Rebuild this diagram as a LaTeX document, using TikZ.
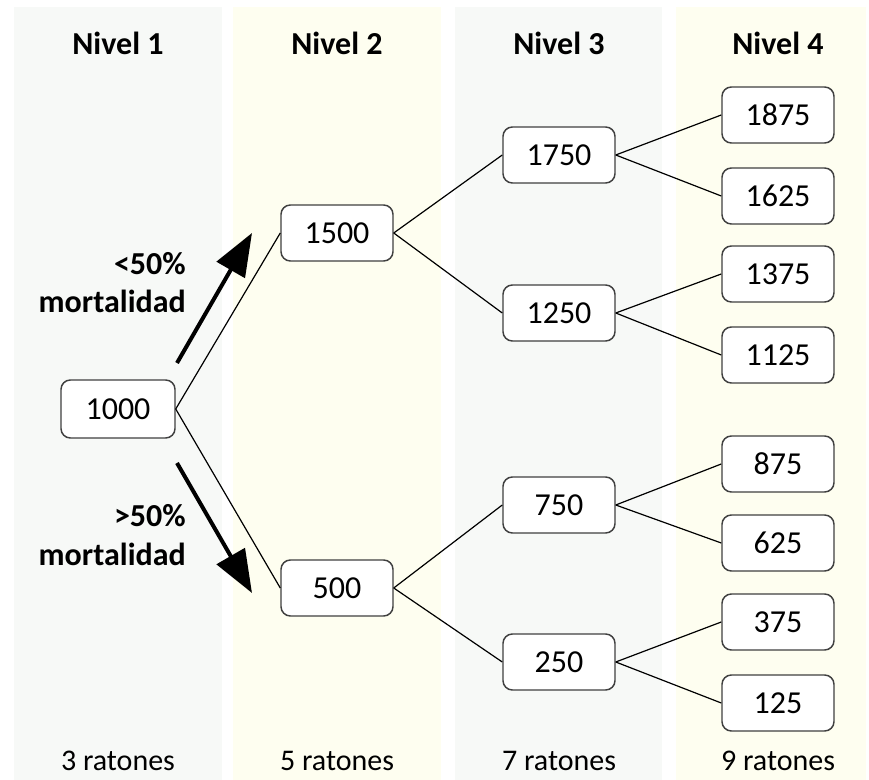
\documentclass[tikz,border=0pt]{standalone}
\usepackage{fontspec}
\setmainfont{Carlito}
\usetikzlibrary{arrows.meta}

\definecolor{panelgrey}{RGB}{247,249,247}
\definecolor{panelyellow}{RGB}{254,254,240}
\definecolor{boxline}{RGB}{64,64,64}

\tikzset{
	dosebox/.style={draw=boxline, line width=1.1pt, fill=white, rounded corners=7pt,
		minimum width=84pt, minimum height=42pt, inner sep=0pt,
		font=\fontsize{24}{28}\selectfont},
	branch/.style={line width=0.9pt},
	headtext/.style={anchor=base, inner sep=0.75pt, font=\fontsize{24}{28}\selectfont\bfseries},
	counttext/.style={anchor=base, inner sep=0.75pt, font=\fontsize{22.5}{26}\selectfont},
	ruletext/.style={anchor=base east, inner sep=0.75pt, font=\fontsize{24}{28}\selectfont\bfseries},
	bigarrow/.style={line width=3pt, -{Triangle[length=32pt, width=24pt]}}
}

\begin{document}
\begin{tikzpicture}[x=0.75pt,y=0.75pt,yscale=-1,xscale=1]
	\useasboundingbox (0,0) rectangle (869,780);

	%Shape: Rectangle [panels]
	\fill [panelgrey] (14,7) rectangle (222,780);
	\fill [panelyellow] (233,7) rectangle (441,780);
	\fill [panelgrey] (455,7) rectangle (662,780);
	\fill [panelyellow] (676,7) rectangle (866,780);

	% Text Node
	\node [headtext] (h1) at (118,55) {Nivel 1};
	\node [headtext] (h2) at (337,55) {Nivel 2};
	\node [headtext] (h3) at (559,55) {Nivel 3};
	\node [headtext] (h4) at (778,55) {Nivel 4};

	% Text Node
	\node [counttext] (c1) at (118,771) {3 ratones};
	\node [counttext] (c2) at (337,771) {5 ratones};
	\node [counttext] (c3) at (559,771) {7 ratones};
	\node [counttext] (c4) at (778,771) {9 ratones};

	%Shape: Rounded Rect [level 1]
	\node [dosebox, minimum width=85.5pt, minimum height=43.5pt] (n1000) at (118,409) {1000};
	%Shape: Rounded Rect [level 2]
	\node [dosebox] (n1500) at (337,233) {1500};
	\node [dosebox] (n500) at (337,588) {500};
	%Shape: Rounded Rect [level 3]
	\node [dosebox] (n1750) at (559,155) {1750};
	\node [dosebox] (n1250) at (559,313) {1250};
	\node [dosebox] (n750) at (559,505) {750};
	\node [dosebox] (n250) at (559,662) {250};
	%Shape: Rounded Rect [level 4]
	\node [dosebox] (n1875) at (778,115) {1875};
	\node [dosebox] (n1625) at (778,196) {1625};
	\node [dosebox] (n1375) at (778,274) {1375};
	\node [dosebox] (n1125) at (778,355) {1125};
	\node [dosebox] (n875) at (778,464) {875};
	\node [dosebox] (n625) at (778,543) {625};
	\node [dosebox] (n375) at (778,622) {375};
	\node [dosebox] (n125) at (778,703) {125};

	%Straight Lines
	\draw [branch] (n1000.east) -- (n1500.west);
	\draw [branch] (n1000.east) -- (n500.west);
	\draw [branch] (n1500.east) -- (n1750.west);
	\draw [branch] (n1500.east) -- (n1250.west);
	\draw [branch] (n500.east) -- (n750.west);
	\draw [branch] (n500.east) -- (n250.west);
	\draw [branch] (n1750.east) -- (n1875.west);
	\draw [branch] (n1750.east) -- (n1625.west);
	\draw [branch] (n1250.east) -- (n1375.west);
	\draw [branch] (n1250.east) -- (n1125.west);
	\draw [branch] (n750.east) -- (n875.west);
	\draw [branch] (n750.east) -- (n625.west);
	\draw [branch] (n250.east) -- (n375.west);
	\draw [branch] (n250.east) -- (n125.west);

	%Straight Lines [arrows]
	\coordinate (uptail) at (177,363);
	\coordinate (uptip) at (252,233);
	\coordinate (downtail) at (177,463);
	\coordinate (downtip) at (252,593);
	\draw [bigarrow] (uptail) -- (uptip);
	\draw [bigarrow] (downtail) -- (downtip);

	% Text Node
	\node [ruletext] (uppct) at (187,275) {<50\%};
	\node [ruletext] (upmort) at (187,313) {mortalidad};
	\node [ruletext] (downpct) at (187,527) {>50\%};
	\node [ruletext] (downmort) at (187,566) {mortalidad};

\end{tikzpicture}
\end{document}
